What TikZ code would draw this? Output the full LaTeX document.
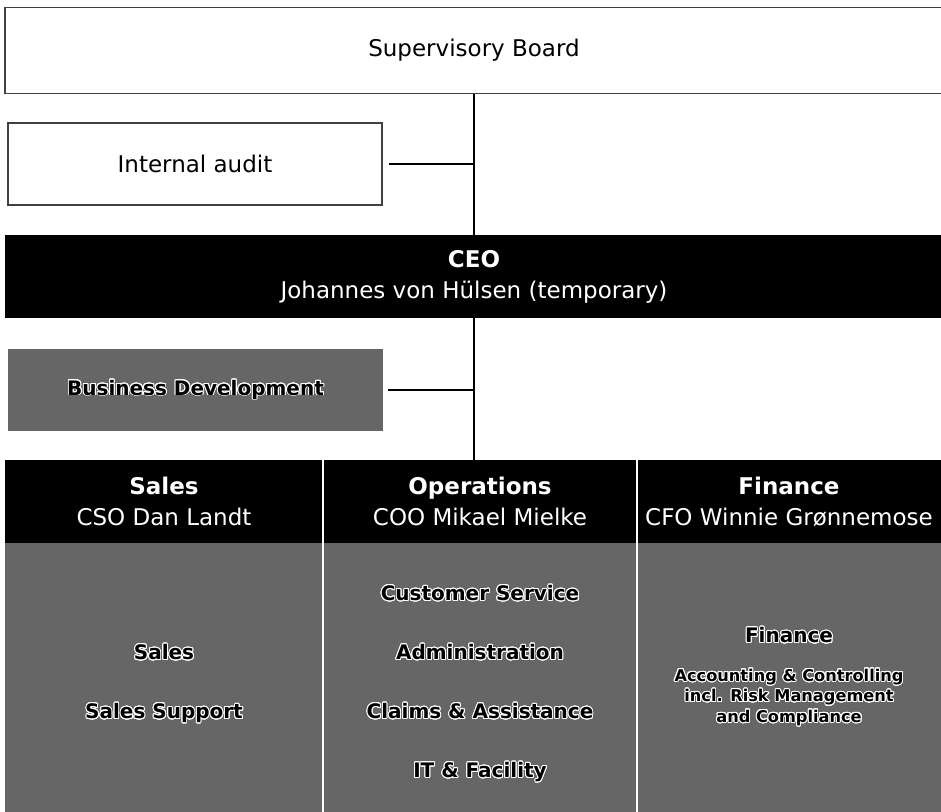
\documentclass[tikz,border=0pt]{standalone}
\usepackage{fontspec}
\setmainfont{DejaVu Sans}
\usepackage{contour}
\contourlength{0.9pt}
\contournumber{24}
\definecolor{dither}{gray}{0.40}
\definecolor{frame}{gray}{0.25}
% black letters with a white rim
\newcommand{\halo}[1]{\contour{white}{#1}}

\begin{document}
\begin{tikzpicture}[x=1pt,y=-1pt,
  box/.style={rectangle, inner sep=0pt, anchor=center},
  plain/.style={box, draw=frame, line width=1.2pt, fill=white,
    font=\fontsize{23}{27}\selectfont},
  dark/.style={box, fill=black, text=white, align=center,
    font=\fontsize{23}{31}\selectfont},
  shade/.style={box, fill=dither, align=center,
    font=\bfseries\fontsize{20}{59}\selectfont},
  link/.style={draw=black, line width=1.3pt},
  divider/.style={draw=white, line width=2pt}]

\useasboundingbox (0,0) rectangle (941,811);

% board and staff functions
\node[plain, minimum width=938pt, minimum height=86pt] (sb) at (474,50.5) {Supervisory Board};
\node[plain, minimum width=374pt, minimum height=82pt] (ia) at (195,164) {Internal audit};
\node[dark, minimum width=938pt, minimum height=83pt] (ceo) at (474,276.5)
  {\textbf{CEO}\\Johannes von Hülsen (temporary)};
\node[shade, minimum width=375pt, minimum height=82pt] (bd) at (195.5,390)
  {\halo{Business Development}};

% division heads
\node[dark, minimum width=318pt, minimum height=83pt] (hs) at (164,501.5)
  {\textbf{Sales}\\CSO Dan Landt};
\node[dark, minimum width=314pt, minimum height=83pt] (ho) at (480,501.5)
  {\textbf{Operations}\\COO Mikael Mielke};
\node[dark, minimum width=304pt, minimum height=83pt] (hf) at (789,501.5)
  {\textbf{Finance}\\CFO Winnie Grønnemose};

% departments
\node[shade, minimum width=318pt, minimum height=282pt] (gs) at (164,684)
  {\halo{Sales}\\\halo{Sales Support}};
\node[shade, minimum width=314pt, minimum height=282pt] (go) at (480,684)
  {\halo{Customer Service}\\\halo{Administration}\\\halo{Claims \& Assistance}\\\halo{IT \& Facility}};
\node[shade, minimum width=304pt, minimum height=282pt] (gf) at (789,684) {};
\node[align=center, inner sep=0pt, font=\bfseries\fontsize{16.2}{20.5}\selectfont] (gft) at (789,677)
  {{\fontsize{20}{24}\selectfont\halo{Finance}}\\[18pt]
   \halo{Accounting \& Controlling}\\\halo{incl. Risk Management}\\\halo{and Compliance}};

% column separators
\draw[divider] (hs.north east) -- (gs.south east);
\draw[divider] (ho.north east) -- (go.south east);

% reporting lines
\draw[link] (sb.south) -- (ceo.north);
\draw[link] ([xshift=6pt]ia.east) -- (ia.east -| sb.south);
\draw[link] (ceo.south) -- (ceo.south |- ho.north);
\draw[link] ([xshift=5pt]bd.east) -- (bd.east -| ceo.south);
\end{tikzpicture}
\end{document}
